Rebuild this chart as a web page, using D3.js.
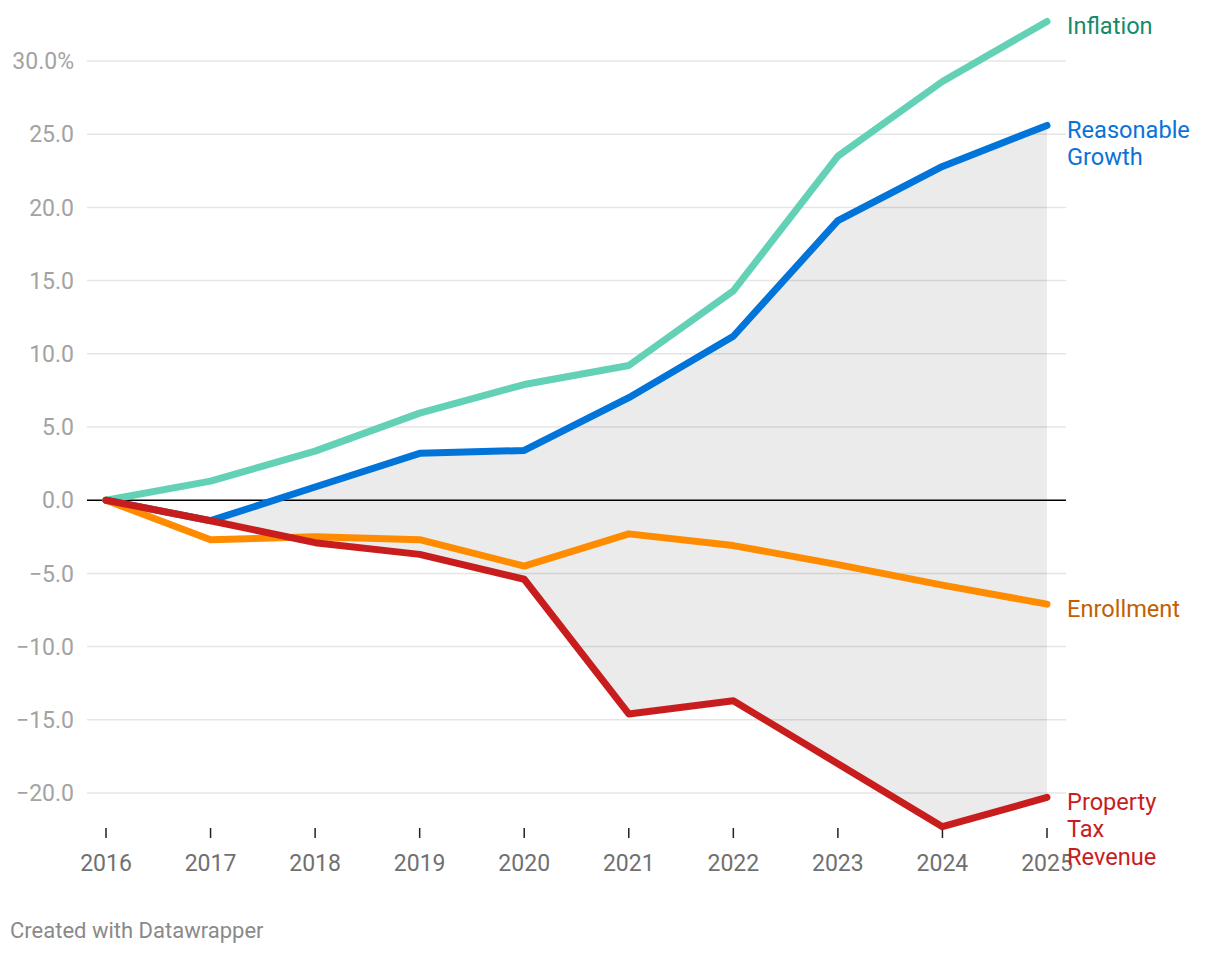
<!DOCTYPE html>
<html><head><meta charset="utf-8">
<script src="https://cdn.jsdelivr.net/npm/d3@7"></script>
<style>
body{margin:0;background:#fff;font-family:Roboto,"Noto Sans",sans-serif;}
svg text{font-family:Roboto,"Noto Sans",sans-serif;}
</style></head>
<body>
<svg id="c" width="1220" height="954"></svg>
<script>
const years = [2016,2017,2018,2019,2020,2021,2022,2023,2024,2025];
const inflation = [0,1.3,3.35,5.95,7.9,9.2,14.3,23.5,28.6,32.7];
const reasonableGrowth = [0,-1.4,0.9,3.2,3.4,7.0,11.2,19.1,22.8,25.6];
const enrollment = [0,-2.7,-2.5,-2.7,-4.5,-2.3,-3.1,-4.4,-5.8,-7.1];
const propertyTax = [0,-1.4,-2.9,-3.7,-5.4,-14.6,-13.7,-18.0,-22.3,-20.3];
const yTicks = [30,25,20,15,10,5,0,-5,-10,-15,-20];
const seriesNames = ["Inflation","Reasonable Growth","Enrollment","Property Tax Revenue"];

const svg = d3.select("#c");
const x = d3.scaleLinear().domain([2016,2025]).range([106,1047]);
const y = d3.scaleLinear().domain([-20,30]).range([793,61]);

// shaded area between Reasonable Growth and Property Tax Revenue
const areaData = years.map((yr,i)=>({yr, hi:reasonableGrowth[i], lo:propertyTax[i]}));
svg.append("path").datum(areaData)
  .attr("fill","#ebebeb")
  .attr("d", d3.area().x(d=>x(d.yr)).y0(d=>y(d.lo)).y1(d=>y(d.hi)));

// gridlines
svg.append("g").selectAll("line").data(yTicks.filter(t=>t!==0)).join("line")
  .attr("x1",87).attr("x2",1066)
  .attr("y1",d=>y(d)).attr("y2",d=>y(d))
  .attr("stroke","#000").attr("stroke-opacity",0.1).attr("stroke-width",1.5);

// y labels
svg.append("g").selectAll("text").data(yTicks).join("text")
  .attr("x",74).attr("y",d=>y(d)).attr("dy","0.36em")
  .attr("text-anchor","end").attr("fill","#a3a3a3").attr("font-size",23)
  .text(d=>{const s=(d<0?"\u2212":"")+Math.abs(d).toFixed(1); return d===30? s+"%": s;});

// zero line
svg.append("line").attr("x1",87).attr("x2",1066).attr("y1",y(0)).attr("y2",y(0))
  .attr("stroke","#000").attr("stroke-width",1.5);

// x ticks
const gx = svg.append("g");
gx.selectAll("line").data(years).join("line")
  .attr("x1",d=>x(d)).attr("x2",d=>x(d)).attr("y1",828).attr("y2",838)
  .attr("stroke","#222").attr("stroke-width",1.5);
gx.selectAll("text").data(years).join("text")
  .attr("x",d=>x(d)).attr("y",871).attr("text-anchor","middle")
  .attr("fill","#707070").attr("font-size",23).text(d=>d);

// lines
const series = [
  {name:seriesNames[0], vals:inflation, color:"#63d1b5", text:"#148a6c", labelLines:["Inflation"]},
  {name:seriesNames[1], vals:reasonableGrowth, color:"#0074d9", text:"#0a73d6", labelLines:["Reasonable","Growth"]},
  {name:seriesNames[2], vals:enrollment, color:"#ff8c00", text:"#c35f00", labelLines:["Enrollment"]},
  {name:seriesNames[3], vals:propertyTax, color:"#c91d1d", text:"#c91d1d", labelLines:["Property","Tax","Revenue"]}
];
const line = d3.line().x((d,i)=>x(years[i])).y(d=>y(d));
series.forEach(s=>{
  svg.append("path").datum(s.vals).attr("d",line)
    .attr("fill","none").attr("stroke",s.color).attr("stroke-width",7)
    .attr("stroke-linecap","round").attr("stroke-linejoin","round");
});
// labels
series.forEach(s=>{
  const last = s.vals[s.vals.length-1];
  const t = svg.append("text").attr("x",1067).attr("y",y(last)+4)
    .attr("fill",s.text).attr("font-size",23.6);
  s.labelLines.forEach((l,i)=>{
    t.append("tspan").attr("x",1067).attr("dy", i===0?"0.36em":"27.5").text(l);
  });
});

svg.append("text").attr("x",10).attr("y",938).attr("fill","#8a8a8a").attr("font-size",22)
  .text("Created with Datawrapper");
</script>
</body></html>
